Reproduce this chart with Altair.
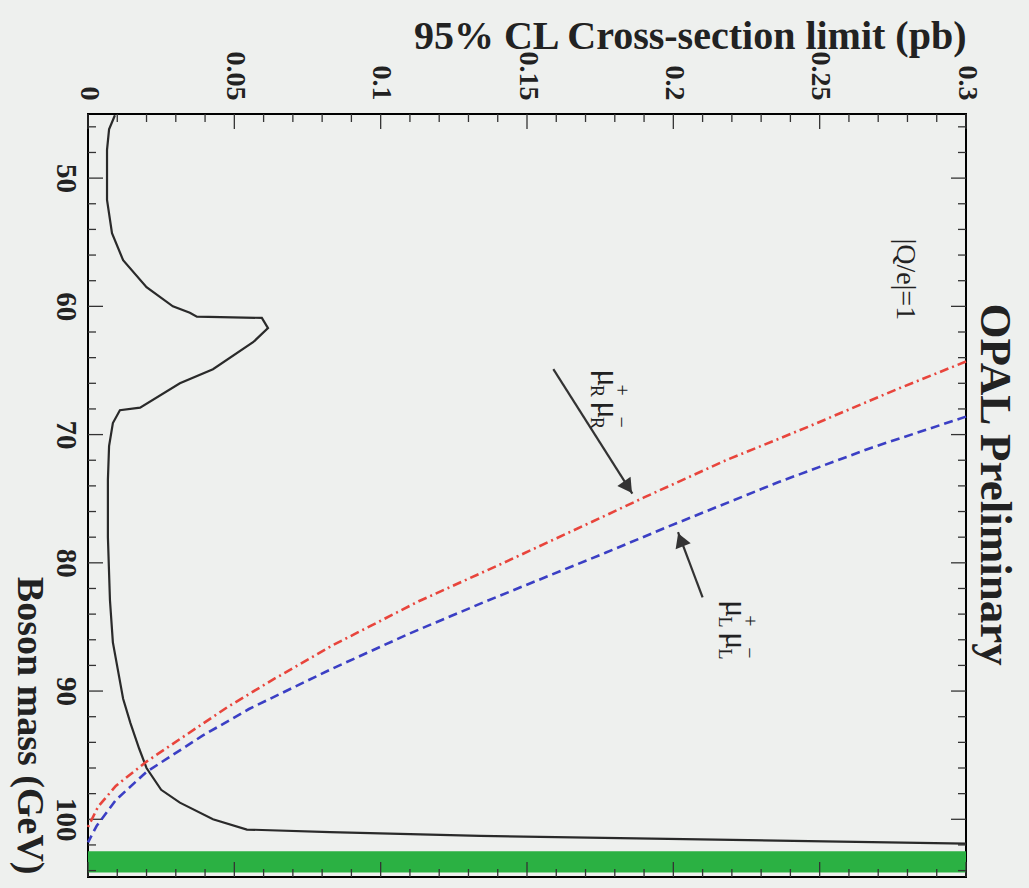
import altair as alt
import pandas as pd

# ---------------- data ----------------
mass_obs = [45.1, 46.2, 47.8, 51.7, 54.3, 56.4, 58.5, 60.0, 60.5, 60.8, 60.9, 61.7,
            62.8, 64.9, 66.0, 67.9, 68.1, 69.1, 70.9, 73.5, 78.0, 82.9, 86.2, 90.6,
            92.5, 94.5, 96.0, 97.7, 98.7, 100.0, 100.8, 101.0, 101.3, 101.9]
xsec_obs = [0.0092, 0.0072, 0.0065, 0.0065, 0.0082, 0.012, 0.020, 0.029, 0.0348, 0.0372,
            0.0594, 0.0615, 0.0564, 0.0427, 0.0314, 0.0178, 0.0109, 0.0085, 0.0072, 0.0068,
            0.0068, 0.0075, 0.0085, 0.012, 0.0145, 0.0175, 0.020, 0.025, 0.0314, 0.0427,
            0.0543, 0.0827, 0.134, 0.30]

mass_R = [64.3, 66.5, 69.4, 72.0, 74.9, 76.4, 80.0, 83.0, 86.5, 89.0, 91.2, 93.5, 95.5,
          97.4, 99.0, 100.6]
xsec_R = [0.300, 0.276, 0.246, 0.218, 0.190, 0.176, 0.142, 0.113, 0.083, 0.064, 0.048,
          0.033, 0.020, 0.0095, 0.0035, 0.0]

mass_L = [68.6, 71.0, 73.7, 77.2, 79.2, 83.0, 85.5, 88.3, 91.4, 93.5, 96.3, 98.5, 100.5, 101.8]
xsec_L = [0.300, 0.268, 0.236, 0.198, 0.177, 0.136, 0.110, 0.083, 0.055, 0.039, 0.020,
          0.0095, 0.003, 0.0]

band_mass = [102.5, 104.15]

mass_major = [50, 60, 70, 80, 90, 100]
mass_minor = [46, 48, 52, 54, 56, 58, 62, 64, 66, 68, 72, 74, 76, 78, 82, 84, 86, 88,
              92, 94, 96, 98, 102, 104]
xsec_major = [0, 0.05, 0.1, 0.15, 0.2, 0.25, 0.3]
xsec_minor = [0.01, 0.02, 0.03, 0.04, 0.06, 0.07, 0.08, 0.09, 0.11, 0.12, 0.13, 0.14,
              0.16, 0.17, 0.18, 0.19, 0.21, 0.22, 0.23, 0.24, 0.26, 0.27, 0.28, 0.29]

# annotation anchors (data coordinates)
arrow_R = {"s": 0.159, "m": 64.9, "s2": 0.186, "m2": 74.6}
arrow_L = {"s": 0.210, "m": 82.7, "s2": 0.2016, "m2": 77.6}

# ---------------- styling ----------------
W, H = 878, 763
FONT = "Liberation Serif"
BG = "#eef0ee"
INK = "#222222"

xs = alt.Scale(domain=[0, 0.3], nice=False, zero=False)
ys = alt.Scale(domain=[45, 104.5], nice=False, zero=False, reverse=True)

x_axis = alt.Axis(orient="top", values=xsec_major, format="~g", labelAngle=90,
                  labelAlign="right", labelBaseline="middle", labelPadding=14,
                  labelFont=FONT, labelFontSize=28, labelFontWeight="bold", labelColor=INK,
                  labelOverlap=False, labelFlush=False,
                  ticks=False, domain=False, grid=False,
                  title="95% CL Cross-section limit (pb)", titleFont=FONT, titleFontSize=40,
                  titleFontWeight="bold", titleColor=INK, titleX=W, titleY=-78,
                  titleAlign="right", titleBaseline="middle", titleAngle=0)
y_axis = alt.Axis(orient="left", values=mass_major, format="d", labelAngle=90,
                  labelAlign="center", labelBaseline="top", labelPadding=9,
                  labelFont=FONT, labelFontSize=29, labelFontWeight="bold", labelColor=INK,
                  labelOverlap=False, labelFlush=False,
                  ticks=False, domain=False, grid=False,
                  title="Boson mass (GeV)", titleFont=FONT, titleFontSize=38,
                  titleFontWeight="bold", titleColor=INK, titleAngle=90,
                  titleX=-60, titleY=H - 3, titleAlign="right", titleBaseline="middle")

X = lambda f: alt.X(f, type="quantitative", scale=xs, axis=x_axis)
Y = lambda f: alt.Y(f, type="quantitative", scale=ys, axis=y_axis)

# ---------------- layers ----------------
obs_df = pd.DataFrame({"m": mass_obs, "s": xsec_obs, "i": range(len(mass_obs))})
obs = alt.Chart(obs_df).mark_line(color="#2a2a2a", strokeWidth=2.2).encode(
    x=X("s"), y=Y("m"), order="i:Q")

r_df = pd.DataFrame({"m": mass_R, "s": xsec_R, "i": range(len(mass_R))})
red = alt.Chart(r_df).mark_line(color="#e8453c", strokeWidth=2.6,
                                strokeDash=[9, 4, 2, 4]).encode(x=X("s"), y=Y("m"), order="i:Q")

l_df = pd.DataFrame({"m": mass_L, "s": xsec_L, "i": range(len(mass_L))})
blue = alt.Chart(l_df).mark_line(color="#3b3fc4", strokeWidth=2.6,
                                 strokeDash=[9, 5]).encode(x=X("s"), y=Y("m"), order="i:Q")

band = alt.Chart(pd.DataFrame({"lo": [band_mass[0]], "hi": [band_mass[1]]})).mark_rect(
    color="#2bb143").encode(y=Y("lo"), y2="hi:Q", x=alt.value(0), x2=alt.value(W))

def mass_ticks(vals, length, side):
    df = pd.DataFrame({"m": vals})
    if side == "left":
        xa, xb = 0, length
    else:
        xa, xb = W, W - length
    return alt.Chart(df).mark_rule(color="#333", strokeWidth=1.3).encode(
        y=Y("m"), x=alt.value(xa), x2=alt.value(xb))

def xsec_ticks(vals, length, side):
    df = pd.DataFrame({"s": vals})
    if side == "top":
        ya, yb = 0, length
    else:
        ya, yb = H, H - length
    return alt.Chart(df).mark_rule(color="#333", strokeWidth=1.3).encode(
        x=X("s"), y=alt.value(ya), y2=alt.value(yb))

ticks = [
    mass_ticks(mass_major, 15, "left"), mass_ticks(mass_minor, 8, "left"),
    mass_ticks(mass_major, 15, "right"), mass_ticks(mass_minor, 8, "right"),
    xsec_ticks(xsec_major, 15, "top"), xsec_ticks(xsec_minor, 8, "top"),
    xsec_ticks(xsec_major, 15, "bottom"), xsec_ticks(xsec_minor, 8, "bottom"),
]

def txt(text, s, m, size=26, weight="normal", dx=0, dy=0, align="center", baseline="middle"):
    return alt.Chart(pd.DataFrame({"s": [s], "m": [m], "t": [text]})).mark_text(
        angle=90, font=FONT, fontSize=size, fontWeight=weight, color=INK,
        dx=dx, dy=dy, align=align, baseline=baseline).encode(x=X("s"), y=Y("m"), text="t:N")

texts = [
    txt("OPAL Preliminary", 0.31, 73.9, size=45, weight="bold"),
    txt("|Q/e|=1", 0.279, 57.9, size=28),
]

def mu_label(s, m, sub):
    return [
        txt("μ", s, m, size=32, dx=-18),
        txt("+", s, m, size=20, dx=-6, dy=-13),
        txt(sub, s, m, size=18, dx=-5, dy=12),
        txt("μ", s, m, size=32, dx=14),
        txt("−", s, m, size=20, dx=26, dy=-13),
        txt(sub, s, m, size=18, dx=27, dy=12),
    ]

texts += mu_label(0.1777, 67.0, "R")
texts += mu_label(0.2215, 85.0, "L")

def arrow(a, head_angle, back):
    df = pd.DataFrame([a])
    line = alt.Chart(df).mark_rule(color="#333", strokeWidth=2.2).encode(
        x=X("s"), x2="s2:Q", y=Y("m"), y2="m2:Q")
    hd = pd.DataFrame({"s": [a["s2"] - back[0]], "m": [a["m2"] - back[1]]})
    head = alt.Chart(hd).mark_point(shape="triangle-up", filled=True, size=260,
                                    color="#333", opacity=1, angle=head_angle).encode(
        x=X("s"), y=Y("m"))
    return [line, head]

arrows = arrow(arrow_R, 145, (0.0015, 0.50)) + arrow(arrow_L, 339, (-0.0009, -0.60))

chart = alt.layer(band, *ticks, obs, red, blue, *arrows, *texts).properties(
    width=W, height=H,
    padding={"left": 88, "top": 114, "right": 63, "bottom": 11},
    autosize=alt.AutoSizeParams(type="none"),
    background=BG,
).configure_view(stroke="black", strokeWidth=2, fill=BG)

chart.save("out.html", embed_options={"renderer": "svg", "actions": False})
